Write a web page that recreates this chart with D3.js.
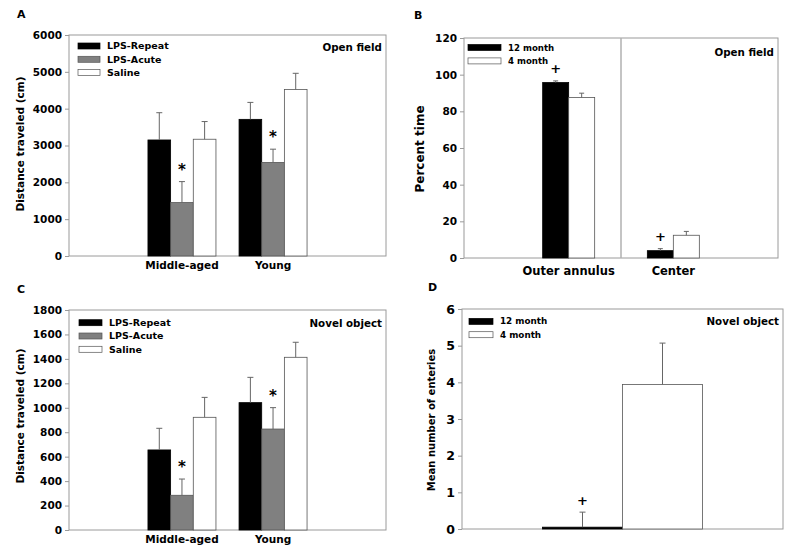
<!DOCTYPE html>
<html>
<head>
<meta charset="utf-8">
<script src="https://cdn.jsdelivr.net/npm/d3@7"></script>
<style>
  body { margin: 0; background: #fff; }
  svg { font-family: "DejaVu Sans", Verdana, sans-serif; font-weight: bold; }
  svg text { fill: #000; }
</style>
</head>
<body>
<div id="chart"></div>
<script>
// ---- data ----
var ageGroups = ["Middle-aged", "Young"];
var treatments = ["LPS-Repeat", "LPS-Acute", "Saline"];
var treatmentColors = ["#000000", "#808080", "#ffffff"];

// A: open field distance (cm), rows = age group, cols = treatment
var openFieldMean = [[3150, 1450, 3170], [3710, 2540, 4520]];
var openFieldErr = [[740, 570, 480], [460, 360, 440]];

// C: novel object distance (cm)
var novelDistMean = [[655, 284, 922], [1042, 826, 1413]];
var novelDistErr = [[177, 133, 163], [207, 175, 123]];

// B: percent time by zone
var zones = ["Outer annulus", "Center"];
var ages = ["12 month", "4 month"];
var ageColors = ["#000000", "#ffffff"];
var percentMean = [[95.7, 87.5], [4.0, 12.4]];
var percentErr = [[0.9, 2.4], [1.1, 2.1]];

// D: mean number of entries
var entryGroups = [""];
var entryMean = [[0.05, 3.94]];
var entryErr = [[0.41, 1.13]];

var yTicksA = [0, 1000, 2000, 3000, 4000, 5000, 6000];
var yTicksB = [0, 20, 40, 60, 80, 100, 120];
var yTicksC = [0, 200, 400, 600, 800, 1000, 1200, 1400, 1600, 1800];
var yTicksD = [0, 1, 2, 3, 4, 5, 6];

var svg = d3.select("#chart").append("svg")
    .attr("width", 800)
    .attr("height", 557);

function drawPanel(o) {
    var w = o.right - o.left,
        h = o.bottom - o.top;

    var g = svg.append("g")
        .attr("transform", "translate(" + o.left + "," + o.top + ")");

    // scales
    var x = d3.scalePoint().domain(o.groups).range([0, w]).padding(o.pad);
    var xs = d3.scaleBand().domain(o.series).range([-o.groupWidth / 2, o.groupWidth / 2]);
    var y = d3.scaleLinear().domain([0, o.yMax]).range([h, 0]);

    // frame
    g.append("rect")
        .attr("width", w).attr("height", h)
        .attr("fill", "none").attr("stroke", "#9a9a9a").attr("stroke-width", 1);

    // y axis
    var yAxis = g.append("g")
        .call(d3.axisLeft(y).tickValues(o.ticks).tickFormat(d3.format("d"))
            .tickSize(4).tickPadding(3));
    yAxis.select(".domain").remove();
    yAxis.selectAll("line").attr("stroke", "#9a9a9a");
    yAxis.selectAll("text")
        .attr("fill", "#000")
        .style("font-size", o.tickFont + "px")
        .style("font-family", "DejaVu Sans")
        .style("font-weight", "bold");

    // divider between groups (panel B)
    if (o.divider) {
        var xm = (x(o.groups[0]) + x(o.groups[1])) / 2;
        g.append("line")
            .attr("x1", xm).attr("x2", xm).attr("y1", 0).attr("y2", h)
            .attr("stroke", "#b0b0b0").attr("stroke-width", 1.5);
    }

    // bars + error bars
    o.groups.forEach(function (grp, i) {
        o.series.forEach(function (s, j) {
            var m = o.mean[i][j], e = o.err[i][j];
            var bx = x(grp) + xs(s), bw = xs.bandwidth();
            g.append("rect")
                .attr("x", bx).attr("y", y(m))
                .attr("width", bw).attr("height", h - y(m))
                .attr("fill", o.colors[j])
                .attr("stroke", j === 0 ? "#000" : "#555")
                .attr("stroke-width", 0.8);
            var cx = bx + bw / 2;
            g.append("line")
                .attr("x1", cx).attr("x2", cx).attr("y1", y(m)).attr("y2", y(m + e))
                .attr("stroke", "#666").attr("stroke-width", 1);
            g.append("line")
                .attr("x1", cx - o.cap).attr("x2", cx + o.cap)
                .attr("y1", y(m + e)).attr("y2", y(m + e))
                .attr("stroke", "#666").attr("stroke-width", 1);
            if (o.markSeries === j) {
                g.append("text")
                    .attr("x", cx).attr("y", y(m + e) - o.markOffset)
                    .attr("text-anchor", "middle")
                    .attr("fill", "#000")
                    .style("font-size", o.markFont + "px")
                    .style("font-family", "DejaVu Sans")
                    .style("font-weight", "bold")
                    .text(o.mark);
            }
        });
    });

    // x labels
    g.selectAll(".xlab").data(o.groups).enter().append("text")
        .attr("x", function (d) { return x(d); })
        .attr("y", h + o.xLabDy)
        .attr("text-anchor", "middle")
        .style("font-size", o.xLabFont + "px")
        .text(function (d) { return d; });

    // y title
    svg.append("text")
        .attr("transform", "translate(" + o.yTitleX + "," + o.yTitleY + ") rotate(-90)")
        .attr("text-anchor", "middle")
        .attr("dy", "0.35em")
        .style("font-size", o.yTitleFont + "px")
        .text(o.yTitle);

    // legend
    o.series.forEach(function (s, j) {
        var ly = o.legTop + j * o.legStep;
        g.append("rect")
            .attr("x", o.legX).attr("y", ly - 3)
            .attr("width", o.legW).attr("height", 6)
            .attr("fill", o.colors[j])
            .attr("stroke", j === 0 ? "#000" : "#555").attr("stroke-width", 0.7);
        g.append("text")
            .attr("x", o.legX + o.legW + 7).attr("y", ly)
            .attr("dy", "0.35em")
            .style("font-size", o.legFont + "px")
            .text(s);
    });

    // test name, top right
    g.append("text")
        .attr("x", w - 4).attr("y", o.noteY)
        .attr("dy", "0.35em")
        .attr("text-anchor", "end")
        .style("font-size", "10.3px")
        .text(o.note);

    // panel letter
    svg.append("text")
        .attr("x", o.letterX).attr("y", o.letterY)
        .style("font-size", "11px")
        .text(o.letter);
}

drawPanel({
    left: 69, top: 35, right: 386, bottom: 256,
    groups: ageGroups, series: treatments, colors: treatmentColors,
    mean: openFieldMean, err: openFieldErr,
    yMax: 6000, ticks: yTicksA, tickFont: 10.5,
    pad: 1.24, groupWidth: 68, cap: 3,
    markSeries: 1, mark: "*", markOffset: 7, markFont: 15,
    xLabDy: 12.5, xLabFont: 10.5,
    yTitle: "Distance traveled (cm)", yTitleX: 20, yTitleY: 144, yTitleFont: 10.5,
    legX: 9, legW: 22, legTop: 11, legStep: 13.3, legFont: 9.5,
    note: "Open field", noteY: 12,
    letter: "A", letterX: 17, letterY: 18
});

drawPanel({
    left: 464, top: 38, right: 778, bottom: 258,
    groups: zones, series: ages, colors: ageColors,
    mean: percentMean, err: percentErr,
    yMax: 120, ticks: yTicksB, tickFont: 10.5,
    pad: 1, groupWidth: 52, cap: 2.5, divider: true,
    markSeries: 0, mark: "+", markOffset: 8, markFont: 13,
    xLabDy: 17, xLabFont: 11.5,
    yTitle: "Percent time", yTitleX: 420, yTitleY: 149, yTitleFont: 12,
    legX: 4, legW: 33, legTop: 9.5, legStep: 13.4, legFont: 8.6,
    note: "Open field", noteY: 14,
    letter: "B", letterX: 414, letterY: 19
});

drawPanel({
    left: 69, top: 310, right: 386, bottom: 530,
    groups: ageGroups, series: treatments, colors: treatmentColors,
    mean: novelDistMean, err: novelDistErr,
    yMax: 1800, ticks: yTicksC, tickFont: 10.5,
    pad: 1.24, groupWidth: 68, cap: 3,
    markSeries: 1, mark: "*", markOffset: 7, markFont: 15,
    xLabDy: 13.3, xLabFont: 10.5,
    yTitle: "Distance traveled (cm)", yTitleX: 20, yTitleY: 416, yTitleFont: 10.5,
    legX: 10, legW: 23, legTop: 12.7, legStep: 13.3, legFont: 9.5,
    note: "Novel object", noteY: 13,
    letter: "C", letterX: 17, letterY: 293
});

drawPanel({
    left: 462, top: 309, right: 783, bottom: 529,
    groups: entryGroups, series: ages, colors: ageColors,
    mean: entryMean, err: entryErr,
    yMax: 6, ticks: yTicksD, tickFont: 12.5,
    pad: 1, groupWidth: 160, cap: 3,
    markSeries: 0, mark: "+", markOffset: 7, markFont: 13,
    xLabDy: 14, xLabFont: 10.5,
    yTitle: "Mean number of enteries", yTitleX: 431, yTitleY: 420, yTitleFont: 10,
    legX: 7, legW: 24, legTop: 12.4, legStep: 13.3, legFont: 8.8,
    note: "Novel object", noteY: 12.5,
    letter: "D", letterX: 428, letterY: 291
});
</script>
</body>
</html>
